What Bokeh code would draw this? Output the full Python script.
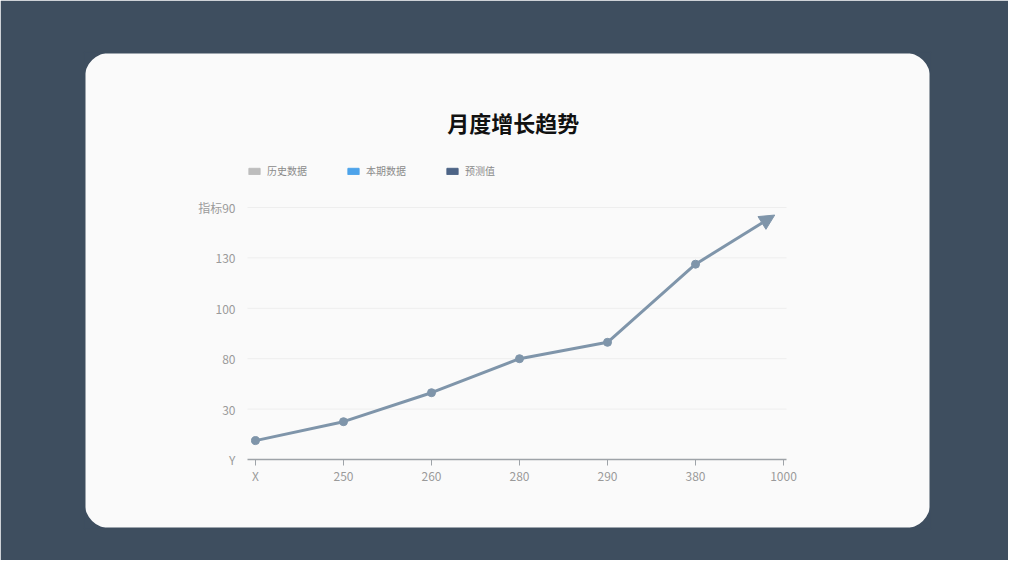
import math
from bokeh.plotting import figure
from bokeh.models import (Range1d, FixedTicker, BoxAnnotation, Label, Legend,
                          LegendItem, Arrow, NormalHead, ColumnDataSource)
from bokeh.embed import file_html
from bokeh.resources import INLINE

# ---- data ----
title_text = "月度增长趋势"
legend_labels = ["历史数据", "本期数据", "预测值"]
legend_colors = ["#bdbdbd", "#4da3ea", "#4d6486"]
months = [0, 1, 2, 3, 4, 5]
values = [15, 30, 53, 80, 93, 155]
trend_end_x = [5.9]
trend_end_y = [194]
x_ticks = [0, 1, 2, 3, 4, 5, 6]
x_tick_labels = ["X", "250", "260", "280", "290", "380", "1000"]
y_ticks = [0, 40, 80, 120, 160, 200]
y_tick_labels = ["Y", "30", "80", "100", "130", "指标90"]

FONT = "Noto Sans CJK SC"
BG = "#3e4e5f"
CARD = "#fafafa"
LINE = "#7f95aa"

# plotting-area extent along x (slightly wider than the tick span)
x_lo = x_ticks[0] - 0.091
x_hi = x_ticks[-1] + 0.034

# the frame is the white card; the chart sits inside it
p = figure(width=1008, height=560, output_backend="svg", toolbar_location=None,
           x_range=Range1d(-1.943, 7.670), y_range=Range1d(-54.76, 323.0),
           min_border_left=84, min_border_right=78,
           min_border_top=52, min_border_bottom=32)
p.border_fill_color = BG
p.background_fill_color = CARD
p.outline_line_color = BG
p.outline_line_width = 2
p.grid.visible = False

# rounded card corners: paint the background colour outside a rounded box
corners = BoxAnnotation(left=p.x_range.start, right=p.x_range.end,
                        bottom=p.y_range.start, top=p.y_range.end,
                        inverted=True, border_radius=26,
                        fill_color=BG, fill_alpha=1.0, line_color=None,
                        level="underlay")
p.add_layout(corners)

# horizontal grid lines at the y ticks
p.segment(x0=[x_lo] * (len(y_ticks) - 1), x1=[x_hi] * (len(y_ticks) - 1),
          y0=y_ticks[1:], y1=y_ticks[1:], line_color="#eeeeee", line_width=1)

# y axis, placed at the left edge of the chart area
p.yaxis.fixed_location = x_lo
p.yaxis.bounds = (y_ticks[0], y_ticks[-1])
p.yaxis.ticker = FixedTicker(ticks=y_ticks)
p.yaxis.major_label_overrides = {t: l for t, l in zip(y_ticks, y_tick_labels)}
p.yaxis.axis_line_color = None
p.yaxis.major_tick_line_color = None
p.yaxis.major_tick_out = 0
p.yaxis.major_tick_in = 0
p.yaxis.minor_tick_line_color = None
p.yaxis.major_label_standoff = 12
p.yaxis.major_label_text_color = "#9a9a9a"
p.yaxis.major_label_text_font = FONT
p.yaxis.major_label_text_font_size = "12px"

# x axis, placed at y = 0
p.xaxis.fixed_location = y_ticks[0]
p.xaxis.bounds = (x_lo, x_hi)
p.xaxis.ticker = FixedTicker(ticks=x_ticks)
p.xaxis.major_label_overrides = {t: l for t, l in zip(x_ticks, x_tick_labels)}
p.xaxis.axis_line_color = "#9ea3a8"
p.xaxis.axis_line_width = 1.5
p.xaxis.major_tick_line_color = "#9ea3a8"
p.xaxis.major_tick_out = 6
p.xaxis.major_tick_in = 0
p.xaxis.minor_tick_line_color = None
p.xaxis.major_label_standoff = 2
p.xaxis.major_label_text_color = "#9a9a9a"
p.xaxis.major_label_text_font = FONT
p.xaxis.major_label_text_font_size = "12px"

# line + markers
src = ColumnDataSource(dict(x=months, y=values))
p.line("x", "y", source=src, line_color=LINE, line_width=3)
p.scatter("x", "y", source=src, size=8, fill_color=LINE, line_color=LINE)

arrow = Arrow(x_start=months[-1], y_start=values[-1],
              x_end=trend_end_x[0], y_end=trend_end_y[0],
              line_color=LINE, line_width=3,
              end=NormalHead(size=15, fill_color=LINE, line_color=LINE))
p.add_layout(arrow)

# legend
items = []
for lab, col in zip(legend_labels, legend_colors):
    r = p.rect(x=[math.nan], y=[math.nan], width=1, height=1,
               fill_color=col, line_color=col)
    items.append(LegendItem(label=lab, renderers=[r]))
legend = Legend(items=items, orientation="horizontal", location=(163, 350),
                glyph_width=14, glyph_height=8, label_standoff=6, spacing=39,
                padding=0, margin=0, border_line_color=None,
                background_fill_alpha=0, label_text_font=FONT,
                label_text_font_size="10px", label_text_color="#8a8a8a")
p.add_layout(legend)

title = Label(x=2.93, y=267.5, text=title_text, text_align="center",
              text_baseline="middle", text_font=FONT, text_font_size="22px",
              text_font_style="bold", text_color="#111111")
p.add_layout(title)

open("out.html", "w").write(file_html(p, INLINE))
